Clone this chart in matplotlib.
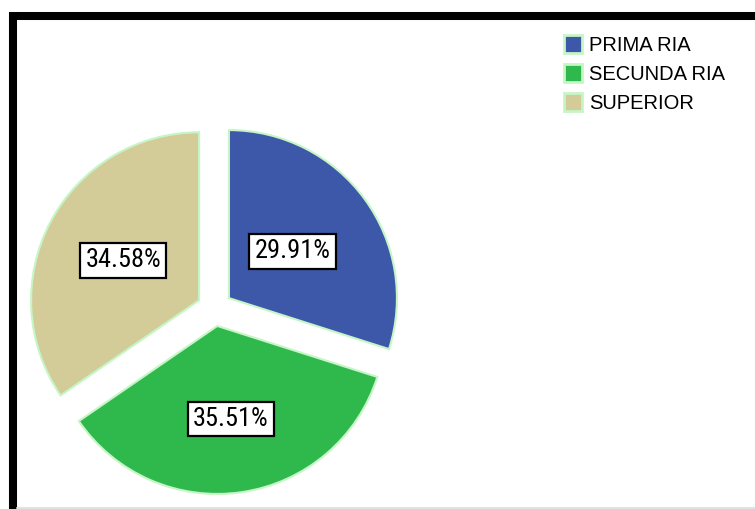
import numpy as np
import matplotlib.pyplot as plt
from matplotlib.patches import Rectangle
from matplotlib.lines import Line2D

plt.rcParams['font.family'] = ['Liberation Sans', 'DejaVu Sans']

# Nivel educativo
categories = ['PRIMARIA', 'SECUNDARIA', 'SUPERIOR']
legend_names = ['PRIMA RIA', 'SECUNDA RIA', 'SUPERIOR']
percentages = [29.91, 35.51, 34.58]
colors = ['#3d58a9', '#2fb84b', '#d3cc99']
edge = '#c6f5c6'

W, H = 755, 509
fig = plt.figure(figsize=(W / 100, H / 100), dpi=100)
fig.patch.set_facecolor('white')

# pie centre and radius in pixels
cx, cy, rad = 214.7, 308.5, 168.0
ax = fig.add_axes([0, 0, 1, 1])
wedges, texts, autotexts = ax.pie(
    percentages, colors=colors, startangle=90, counterclock=False,
    explode=[0.105] * 3, radius=1.0,
    wedgeprops=dict(edgecolor=edge, linewidth=1.5),
    autopct=lambda p: f'{p:.2f}%', pctdistance=0.5,
    textprops=dict(fontsize=19, family=['Roboto Condensed', 'Liberation Sans'],
                   color='black'))

# move the percentage boxes along each wedge's bisector
label_dist = [0.47, 0.56, 0.51]
for w, t, d in zip(wedges, autotexts, label_dist):
    ang = np.deg2rad((w.theta1 + w.theta2) / 2)
    ox, oy = w.center
    t.set_position((ox + d * np.cos(ang), oy + d * np.sin(ang)))
    t.set_bbox(dict(boxstyle='square,pad=0.2', facecolor='white',
                    edgecolor='black', linewidth=1.6))

ax.set_xlim(-cx / rad, (W - cx) / rad)
ax.set_ylim(-(H - cy) / rad, cy / rad)
ax.set_aspect('auto')
ax.axis('off')

# legend
handles = [Line2D([0], [0], marker='s', linestyle='none', markersize=13,
                  markerfacecolor=c, markeredgecolor=edge, markeredgewidth=2)
           for c in colors]
fig.legend(handles, legend_names, loc='upper left',
           bbox_to_anchor=(553 / W, 1 - 26 / H), frameon=False,
           fontsize=14.5, handlelength=0.95, handletextpad=0.35,
           labelspacing=0.5, borderpad=0)

# outer frame (top and left visible)
fig.add_artist(Rectangle((13 / W, -0.05), 1.2, (H - 16) / H + 0.05,
                         transform=fig.transFigure, fill=False,
                         edgecolor='black', linewidth=5.8))
fig.add_artist(Line2D([17 / W, 1], [1 - 507.5 / H] * 2, transform=fig.transFigure,
                      color='#dddddd', linewidth=1.2))

fig.savefig('out.png', dpi=100)
